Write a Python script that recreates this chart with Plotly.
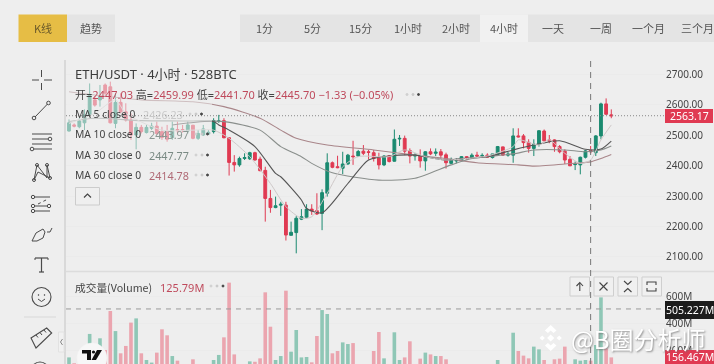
import plotly.graph_objects as go

# ---------- data ----------
opens = [2513,2533,2527,2540,2566,2615,2615,2664,2658,2538,2607,2576,2549,2500,2525,2508,2522,2529,2511,2511,
         2492,2518,2518,2513,2532,2489,2500,2503,2511,2544,2547,2491,2410,2402,2423,2422,2442,2421,2384,2292,
         2262,2270,2270,2171,2180,2224,2230,2257,2252,2243,2309,2409,2396,2391,2405,2431,2431,2447,2445,2442,
         2426,2402,2432,2414,2487,2489,2449,2431,2432,2415,2445,2440,2445,2435,2407,2415,2416,2429,2423,2434,
         2432,2434,2426,2436,2461,2434,2434,2497,2497,2476,2456,2469,2513,2484,2484,2462,2447,2420,2403,2402,
         2427,2449,2442,2497,2602,2566]
highs = [2551,2538,2555,2584,2669,2626,2664,2669,2675,2637,2637,2604,2571,2538,2533,2533,2540,2544,2527,2533,
         2544,2544,2533,2544,2533,2516,2533,2516,2555,2566,2555,2491,2434,2429,2440,2445,2445,2429,2396,2320,
         2298,2281,2281,2216,2234,2257,2273,2273,2309,2322,2440,2413,2432,2445,2438,2481,2451,2467,2451,2451,
         2442,2434,2434,2518,2500,2498,2456,2440,2453,2447,2456,2456,2454,2442,2426,2423,2431,2431,2440,2445,
         2440,2440,2438,2464,2462,2445,2522,2522,2503,2486,2486,2516,2518,2500,2486,2467,2453,2431,2413,2429,
         2451,2464,2500,2606,2620,2584]
lows = [2511,2525,2522,2516,2560,2593,2593,2631,2538,2522,2571,2544,2484,2453,2505,2505,2516,2500,2484,2478,
        2484,2505,2508,2505,2486,2484,2497,2500,2505,2540,2489,2367,2380,2396,2418,2418,2416,2381,2216,2245,
        2260,2235,2154,2171,2112,2221,2227,2238,2238,2188,2298,2391,2391,2372,2402,2402,2429,2434,2420,2413,
        2387,2398,2410,2413,2464,2434,2407,2416,2393,2383,2434,2431,2423,2390,2405,2407,2415,2420,2421,2429,
        2429,2425,2423,2434,2432,2429,2409,2492,2456,2442,2431,2462,2479,2473,2445,2440,2405,2398,2385,2371,
        2423,2440,2431,2486,2566,2555]
closes = [2540,2529,2546,2566,2629,2598,2626,2637,2540,2607,2576,2549,2500,2525,2511,2525,2529,2505,2492,2486,
          2522,2514,2514,2533,2489,2505,2520,2509,2547,2546,2491,2410,2402,2423,2426,2442,2418,2383,2292,2262,
          2268,2273,2172,2181,2227,2232,2257,2251,2241,2311,2409,2394,2393,2405,2434,2429,2446,2440,2443,2423,
          2402,2431,2413,2486,2489,2447,2431,2434,2415,2445,2438,2444,2434,2409,2420,2417,2429,2422,2434,2431,
          2433,2427,2438,2462,2434,2437,2497,2494,2475,2456,2470,2514,2481,2480,2462,2445,2418,2399,2405,2427,
          2448,2445,2497,2602,2568,2563]
volumes = [150,107,95,95,322,95,290,204,490,343,180,234,405,436,180,131,112,185,356,312,
           160,126,90,90,136,90,90,90,131,168,297,698,172,90,90,121,118,143,627,375,
           131,160,639,192,351,150,153,114,307,497,468,180,197,260,248,255,90,90,90,197,
           336,143,90,334,131,150,268,90,141,185,172,160,160,136,90,90,90,90,90,90,
           90,90,90,131,90,90,331,197,163,143,229,209,131,90,136,141,229,90,136,126,
           131,126,241,590,216,150]

ma5_i = [0,5,9,11,18,24,28,31,35,39,42,45,47,50,53,56,62,65,69,73,77,81,86,87,91,93,96,99,101,103,105]
ma5_v = [2538,2571,2615,2571,2516,2516,2516,2489,2429,2341,2265,2227,2232,2309,2396,2429,2429,2451,2429,2418,2423,2431,2462,2484,2467,2484,2440,2407,2418,2484,2533]
ma10_i = [20,28,29,31,36,40,41,45,46,49,54,58,62,67,73,76,81,86,90,95,100,103,105]
ma10_v = [2533,2544,2533,2516,2462,2374,2363,2287,2259,2245,2341,2418,2431,2434,2418,2423,2429,2451,2467,2481,2453,2454,2480]
ma30_i = [0,5,14,22,30,37,41,45,47,51,60,67,74,78,86,90,96,100,103,105]
ma30_v = [2544,2555,2547,2546,2544,2516,2462,2429,2407,2376,2352,2358,2402,2423,2438,2451,2451,2445,2451,2464]
ma60_i = [0,5,14,24,30,37,41,44,50,59,67,73,79,87,90,96,101,103,105]
ma60_v = [2642,2631,2615,2609,2593,2555,2516,2489,2467,2451,2434,2423,2409,2402,2398,2405,2412,2423,2436]

price_ticks = [2100,2200,2300,2400,2500,2600,2700]
volume_ticks = [200,400,600]
volume_tick_labels = ["200M","400M","600M"]
last_price = 2563.17
crosshair_volume = 505.227
crosshair_index = 101
tabs = ["1分","5分","15分","1小时","2小时","4小时","一天","一周","一个月","三个月"]
ma_labels = ["MA 5 close 0","MA 10 close 0","MA 30 close 0","MA 60 close 0"]
ma_values = ["2426.23","2443.97","2447.77","2414.78"]

# ---------- styling ----------
W, H = 714, 364
BG = "#eeeeee"
GREEN, RED = "#1b8a70", "#e03a52"
VGREEN, VRED = "#8fc7b6", "#eba5af"
INK = "#444444"
FONT = "Noto Sans, Noto Sans CJK SC, sans-serif"
CJK = "Noto Sans CJK SC, Noto Sans, sans-serif"

def X(px): return px / W
def Y(px): return 1 - px / H

shapes, notes = [], []

def rect(x0, y0, x1, y1, fill, line=None, lw=1, layer="above"):
    shapes.append(dict(type="rect", xref="paper", yref="paper", x0=X(x0), x1=X(x1), y0=Y(y0), y1=Y(y1),
                       fillcolor=fill, line=dict(color=line or fill, width=lw if line else 0), layer=layer))

def seg(x0, y0, x1, y1, color=INK, lw=1, dash="solid", layer="above"):
    shapes.append(dict(type="line", xref="paper", yref="paper", x0=X(x0), x1=X(x1), y0=Y(y0), y1=Y(y1),
                       line=dict(color=color, width=lw, dash=dash), layer=layer))

def circ(cx, cy, r, color=INK, lw=1, fill="rgba(0,0,0,0)"):
    shapes.append(dict(type="circle", xref="paper", yref="paper", x0=X(cx-r), x1=X(cx+r), y0=Y(cy+r), y1=Y(cy-r),
                       line=dict(color=color, width=lw), fillcolor=fill, layer="above"))

def path(points, color=INK, lw=1, fill=None, close=False):
    d = "M " + " L ".join(f"{X(a):.5f} {Y(b):.5f}" for a, b in points) + (" Z" if close else "")
    shapes.append(dict(type="path", xref="paper", yref="paper", path=d, fillcolor=fill or "rgba(0,0,0,0)",
                       line=dict(color=color, width=lw), layer="above"))

def text(x, y, s, size=11, color=INK, anchor="left", family=FONT, shadow=None):
    f = dict(family=family, size=size, color=color)
    if shadow:
        f["shadow"] = shadow
    notes.append(dict(xref="paper", yref="paper", x=X(x), y=Y(y), text=s, showarrow=False,
                      xanchor=anchor, yanchor="middle", borderpad=0, borderwidth=0, font=f))

# ---------- figure ----------
fig = go.Figure()
idx = list(range(len(opens)))
fig.add_trace(go.Candlestick(x=idx, open=opens, high=highs, low=lows, close=closes, whiskerwidth=0,
                             increasing=dict(line=dict(color=GREEN, width=1), fillcolor=GREEN),
                             decreasing=dict(line=dict(color=RED, width=1), fillcolor=RED),
                             showlegend=False, xaxis="x", yaxis="y"))
for xs, ys, col, lw in [(ma60_i, ma60_v, "#a9868a", 1.1), (ma30_i, ma30_v, "#8a8f8c", 1.1),
                        (ma10_i, ma10_v, "#555555", 1.1), (ma5_i, ma5_v, "#cfc9c9", 1)]:
    fig.add_trace(go.Scatter(x=xs, y=ys, mode="lines", line=dict(color=col, width=lw, shape="spline", smoothing=0.7),
                             showlegend=False, xaxis="x", yaxis="y"))
fig.add_trace(go.Bar(x=idx, y=volumes, marker=dict(color=[VGREEN if c >= o else VRED for o, c in zip(opens, closes)], line_width=0),
                     width=0.7, showlegend=False, xaxis="x2", yaxis="y2"))

# faded region behind the legend text
rect(67, 80, 212, 165, "rgba(238,238,238,0.55)")

# panel separators
rect(64, 60, 66, 364, "#d9d9d9")
seg(66, 271.5, 714, 271.5, "#dcdcdc", 1.5)

# crosshairs and price lines
shapes.append(dict(type="line", xref="x", yref="paper", x0=crosshair_index, x1=crosshair_index, y0=0, y1=Y(58),
                   line=dict(color="#777777", width=1, dash="6px,5px"), layer="above"))
shapes.append(dict(type="line", xref="paper", yref="y", x0=X(66), x1=X(665), y0=last_price, y1=last_price,
                   line=dict(color="#888888", width=1, dash="1px,2px"), layer="above"))
shapes.append(dict(type="line", xref="paper", yref="y2", x0=X(66), x1=X(665), y0=crosshair_volume, y1=crosshair_volume,
                   line=dict(color="#9a9a9a", width=1, dash="5px,5px"), layer="above"))

# top tabs
rect(18.5, 14.5, 67, 42, "#e6bd45")
rect(67, 14.5, 115, 42, "#e4e4e4")
text(42.5, 28, "K线", 11, "#6b5a2a", "center", CJK)
text(91, 28, "趋势", 11, "#555555", "center", CJK)
rect(240, 14.5, 714, 42, "#e4e4e4")
rect(480, 14.5, 528, 42, "#f1f1f1")
for cx, t in zip([264,312,360,408,456,504,553,601,648,697], tabs):
    text(cx, 28, t, 11, "#555555", "center", CJK)

# legend block
text(75, 74, "ETH/USDT · 4小时 · 528BTC", 13, "#3d3d3d")
R = "#bf4a5c"
text(75, 94.5, f'开=<span style="color:{R}">2447.03</span> 高=<span style="color:{R}">2459.99</span> '
               f'低=<span style="color:{R}">2441.70</span> 收=<span style="color:{R}">2445.70 −1.33 (−0.05%)</span>', 11, "#444444")
for a, b in [(407, "#d0d0d0"), (413, "#c8c8c8"), (418.5, "#444444")]:
    circ(a, 94.5, 1, b, 1, b)
val_cols = ["#c9c9c9", "#8a9792", "#7a8a84", "#b06a76"]
for y, lab, v, col, w in zip([114, 134, 155, 175], ma_labels, ma_values, val_cols, [143, 149, 149, 149]):
    text(75, y, lab, 10.3, "#444444")
    text(w, y, v, 10.8, col)
    d = w + 47
    for a, b in [(d, "#d0d0d0"), (d+6, "#c8c8c8"), (d+11.5, "#444444")]:
        circ(a, y, 1, b, 1, b)
rect(75.5, 187.5, 99.5, 205, "#efefef", "#cccccc")
path([(84, 197.5), (87.5, 194), (91, 197.5)], "#444444", 1.2)

text(75, 287, "成交量(Volume)", 10.7, "#444444", family=CJK)
text(160, 287, "125.79M", 11, "#bf4a5c")
for a, b in [(211, "#d0d0d0"), (217, "#c8c8c8"), (223, "#444444")]:
    circ(a, 286, 1, b, 1, b)

# chart buttons
for x0 in [570, 594, 618, 642]:
    rect(x0, 277, x0 + 19.5, 296, "#f0f0f0", "#cfcfcf")
path([(579.8, 291), (579.8, 283)], "#444", 1.1); path([(576.5, 286), (579.8, 282.5), (583, 286)], "#444", 1.1)
path([(599.5, 282.5), (607.5, 290.5)], "#444", 1.1); path([(607.5, 282.5), (599.5, 290.5)], "#444", 1.1)
path([(624, 281), (627.8, 284.5), (631.5, 281)], "#444", 1.1); path([(624, 292), (627.8, 288.5), (631.5, 292)], "#444", 1.1)
path([(647, 285), (647, 282), (656, 282), (656, 285)], "#444", 1.1)
path([(647, 288), (647, 291), (656, 291), (656, 288)], "#444", 1.1)

# axis tags
rect(665, 109, 713, 123, "#e03a52")
text(689, 116.5, "2563.17", 10.5, "#ffffff", "center")
rect(665, 301, 714, 319, "#1c1c1c")
text(689.5, 310, "505.227M", 10.5, "#ffffff", "center")
rect(665, 350, 714, 364, "#e03a52")
text(689.5, 357, "156.467M", 10.5, "#ffffff", "center")

# left toolbar icons
c = "#4a4a4a"
seg(32, 80, 39, 80, c); seg(44, 80, 52, 80, c); seg(41.5, 70, 41.5, 77, c); seg(41.5, 83, 41.5, 90, c)
seg(35, 117, 47.5, 104, c); circ(34, 118, 1.8, c); circ(48.5, 103, 1.8, c)
for yy in (134, 144):
    seg(32, yy, 52, yy, c)
seg(32, 139, 48, 139, c); circ(50, 139, 1.8, c); seg(34, 149, 52, 149, c); circ(32, 149, 1.8, c)
path([(34, 180), (37, 165), (47, 178), (47, 165), (50, 178), (38, 172), (34, 180)], c)
for p in [(34, 180), (37, 165), (47, 165), (50, 178)]:
    circ(p[0], p[1], 1.5, c)
seg(35, 197, 50, 197, c); seg(35, 206, 47, 206, c); seg(35, 211, 50, 211, c)
seg(38, 204, 48, 199, c, 1, "dot")
for p in [(33, 197), (33, 206), (49, 206), (33, 211)]:
    circ(p[0], p[1], 1.7, c)
path([(32, 241), (36, 233), (43, 229), (45, 232), (43, 238), (37, 241), (32, 241)], c)
path([(47, 232), (50, 232), (52, 228)], c)
seg(35, 258, 48, 258, c, 1.2); seg(41.5, 258, 41.5, 272, c, 1.2); seg(39, 272, 44, 272, c, 1.2)
seg(35, 258, 35, 260, c); seg(48, 258, 48, 260, c)
circ(41.5, 297, 9.5, c, 1.1); circ(38.5, 295, 0.4, c); circ(44.5, 295, 0.4, c)
path([(38, 299), (41.5, 301.5), (45, 299)], c)
seg(24, 317, 56, 317, "#d8d8d8")
path([(31, 338), (46.7, 328), (51.7, 333), (36, 348)], c, 1.1, close=True)
for a, b in [(36, 335), (40, 332.5), (44, 330)]:
    seg(a, b, a + 2, b + 2.5, c)
circ(40, 371, 9, c, 1.1)
rect(58.5, 332, 64, 352, "#f1f1f1", "#e2e2e2")
path([(62.5, 339), (60.5, 342), (62.5, 345)], "#888888", 1)

# TradingView badge
circ(92, 358, 15, "#f4f4f4", 0.5, "#f7f7f7")
path([(82, 350), (91, 350), (91, 360), (87, 360), (87, 353.5), (82, 353.5)], "#111111", 0, "#111111", True)
circ(93.5, 352, 1.6, "#111111", 0, "#111111")
path([(97, 350), (102, 350), (96, 360), (91.5, 360)], "#111111", 0, "#111111", True)

# watermark
wm = "#ffffff"
def diamond(cx, cy, r):
    path([(cx, cy - r), (cx + r, cy), (cx, cy + r), (cx - r, cy)], wm, 0, wm, True)
diamond(550.7, 338, 3.6)
for dx, dy in [(-8.5, 0), (8.5, 0)]:
    diamond(550.7 + dx, 338 + dy, 2.6)
path([(550.7, 325), (556.5, 330.5), (553.5, 333), (550.7, 330.5), (547.9, 333), (544.9, 330.5)], wm, 0, wm, True)
path([(550.7, 351), (556.5, 345.5), (553.5, 343), (550.7, 345.5), (547.9, 343), (544.9, 345.5)], wm, 0, wm, True)
text(571, 338, "@B圈分析师", 24, "#ffffff", family=CJK, shadow="1px 1px 2px rgba(110,110,110,0.75)")

axis_line = dict(showline=False, zeroline=False, showspikes=False)
fig.update_layout(
    width=W, height=H, margin=dict(l=0, r=0, t=0, b=0, pad=0), autosize=False,
    paper_bgcolor=BG, plot_bgcolor=BG, showlegend=False, boxgap=0.22, bargap=0.3, dragmode=False,
    font=dict(family=FONT, size=10, color=INK), shapes=shapes, annotations=notes,
    xaxis=dict(domain=[X(66), X(665)], range=[-0.58, 115.4], anchor="y", rangeslider=dict(visible=False),
               showticklabels=False, ticks="", showgrid=False, **axis_line),
    xaxis2=dict(domain=[X(66), X(665)], range=[-0.58, 115.4], anchor="y2", showticklabels=False, ticks="",
                showgrid=False, **axis_line),
    yaxis=dict(domain=[Y(272), Y(60)], range=[2050.8, 2745.9], side="right", anchor="x", tickvals=price_ticks,
               tickformat=".2f", ticks="", gridcolor="#ebebeb", gridwidth=1, automargin=False,
               tickfont=dict(family=FONT, size=10, color=INK), **axis_line),
    yaxis2=dict(domain=[0, Y(272)], range=[101.6, 776], side="right", anchor="x2", tickvals=volume_ticks,
                ticktext=volume_tick_labels, ticks="", gridcolor="#ebebeb", gridwidth=1, automargin=False,
                tickfont=dict(family=FONT, size=10, color=INK), **axis_line),
)
fig.write_html("out.html", config=dict(displayModeBar=False),
               post_script="document.body.style.margin='0';document.body.style.overflow='hidden';document.body.style.background='#eeeeee';document.body.style.filter='blur(0.35px)';")
